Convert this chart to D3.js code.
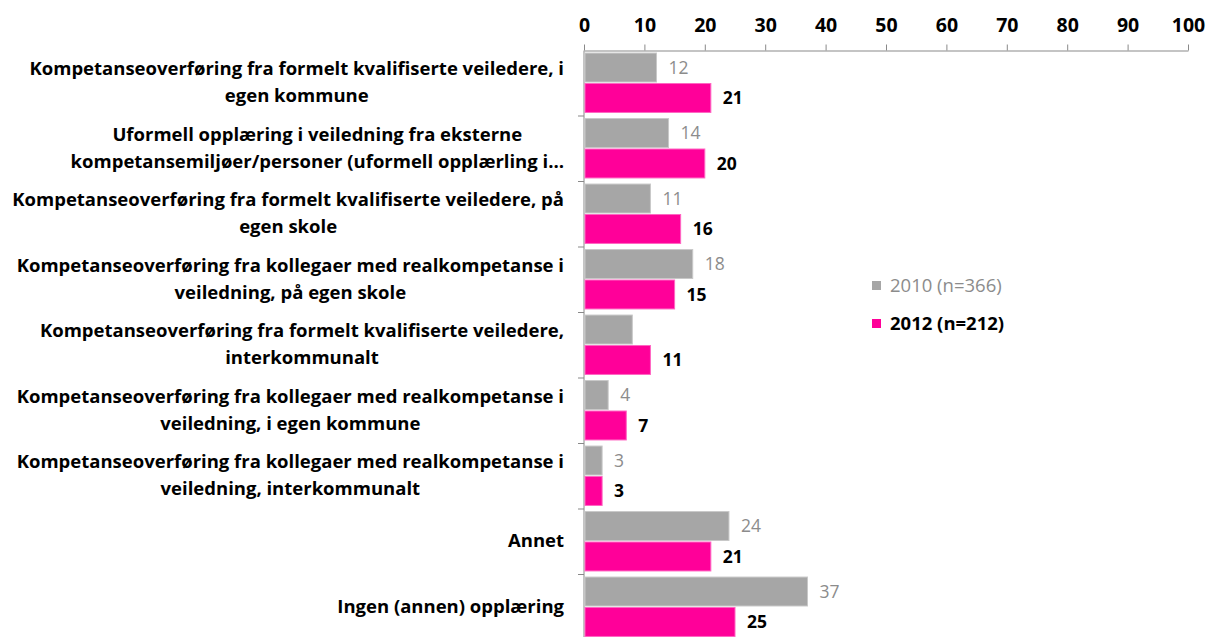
<!DOCTYPE html>
<html>
<head>
<meta charset="utf-8">
<script src="https://cdn.jsdelivr.net/npm/d3@7"></script>
<style>
  body { margin: 0; background: #fff; }
  text { font-family: "Open Sans", "Noto Sans", sans-serif; }
  .cat-label { font-weight: bold; fill: #000; }
  .tick-label { font-weight: bold; fill: #000; }
</style>
</head>
<body>
<div id="chart"></div>
<script>
const categories = [
    ["Kompetanseoverføring fra formelt kvalifiserte veiledere, i", "egen kommune"],
    ["Uformell opplæring i veiledning fra eksterne", "kompetansemiljøer/personer (uformell opplærling i…"],
    ["Kompetanseoverføring fra formelt kvalifiserte veiledere, på", "egen skole"],
    ["Kompetanseoverføring fra kollegaer med realkompetanse i", "veiledning, på egen skole"],
    ["Kompetanseoverføring fra formelt kvalifiserte veiledere,", "interkommunalt"],
    ["Kompetanseoverføring fra kollegaer med realkompetanse i", "veiledning, i egen kommune"],
    ["Kompetanseoverføring fra kollegaer med realkompetanse i", "veiledning, interkommunalt"],
    ["Annet"],
    ["Ingen (annen) opplæring"]
];
const values2010 = [12, 14, 11, 18, 8, 4, 3, 24, 37];
const values2012 = [21, 20, 16, 15, 11, 7, 3, 21, 25];
// the 2010 value for the fifth category has no label in the original
const labels2010 = ["12", "14", "11", "18", null, "4", "3", "24", "37"];
const labels2012 = ["21", "20", "16", "15", "11", "7", "3", "21", "25"];
const seriesNames = ["2010 (n=366)", "2012 (n=212)"];
const xTicks = [0, 10, 20, 30, 40, 50, 60, 70, 80, 90, 100];

const width = 1213, height = 637;
const axisLeft = 584, axisRight = 1188, axisTop = 50.5;
const bandTop = 50, bandStep = 65.5;
const labelRight = 564, lineGap = 27, fontSize = 18.5;
const grey = "#a6a6a6", pink = "#ff0099", axisColor = "#898989";

const svg = d3.select("#chart").append("svg")
    .attr("width", width)
    .attr("height", height);

const x = d3.scaleLinear().domain([0, 100]).range([axisLeft, axisRight]);
const y = d3.scaleBand()
    .domain(d3.range(categories.length))
    .range([bandTop, bandTop + bandStep * categories.length])
    .paddingInner(0).paddingOuter(0);
const ySeries = d3.scaleBand()
    .domain([0, 1])
    .range([0, y.bandwidth()])
    .paddingInner(0.05).paddingOuter(0.1);

// top axis
const xAxis = d3.axisTop(x).tickValues(xTicks).tickSize(6).tickSizeOuter(0).tickPadding(13);
const gx = svg.append("g")
    .attr("transform", `translate(0,${axisTop})`)
    .call(xAxis);
gx.select(".domain").attr("stroke", axisColor);
gx.selectAll(".tick line").attr("stroke", axisColor);
gx.selectAll(".tick text")
    .attr("class", "tick-label")
    .attr("font-size", 19.5)
    .attr("fill", "#000");

// left axis line with small ticks between categories
svg.append("line")
    .attr("x1", axisLeft).attr("x2", axisLeft)
    .attr("y1", axisTop).attr("y2", height)
    .attr("stroke", axisColor);
svg.selectAll(".cat-tick")
    .data(d3.range(1, categories.length))
    .enter()
    .append("line")
    .attr("class", "cat-tick")
    .attr("x1", axisLeft - 6).attr("x2", axisLeft)
    .attr("y1", d => y(d) + 0.5).attr("y2", d => y(d) + 0.5)
    .attr("stroke", axisColor);

// bars
const series = [
    {values: values2010, labels: labels2010, fill: grey, stroke: "#c8c8c8", textFill: "#8c8c8c", weight: "normal"},
    {values: values2012, labels: labels2012, fill: pink, stroke: "#ff66c2", textFill: "#000", weight: "bold"}
];

series.forEach((s, si) => {
    const g = svg.append("g").attr("class", `series-${si}`);
    g.selectAll("rect")
        .data(s.values)
        .enter()
        .append("rect")
        .attr("x", x(0) + 1)
        .attr("y", (d, i) => y(i) + ySeries(si))
        .attr("width", d => x(d) - x(0) - 1)
        .attr("height", ySeries.bandwidth())
        .attr("fill", s.fill)
        .attr("stroke", s.stroke)
        .attr("stroke-width", 1);

    g.selectAll("text")
        .data(s.values)
        .enter()
        .append("text")
        .attr("x", d => x(d) + 12)
        .attr("y", (d, i) => y(i) + ySeries(si) + ySeries.bandwidth() / 2)
        .attr("dy", "0.35em")
        .attr("font-size", 17.5)
        .attr("font-weight", s.weight)
        .attr("fill", s.textFill)
        .text((d, i) => s.labels[i] === null ? "" : s.labels[i]);
});

// category labels: lines centred on each other, block right aligned
categories.forEach((lines, i) => {
    const g = svg.append("g").attr("class", "cat-label");
    const cy = y(i) + y.bandwidth() / 2;
    const texts = lines.map((line, li) => g.append("text")
        .attr("font-size", fontSize)
        .attr("font-weight", "bold")
        .attr("y", cy + (li - (lines.length - 1) / 2) * lineGap + 6)
        .text(line));
    const maxW = d3.max(texts, t => t.node().getComputedTextLength());
    texts.forEach(t => t.attr("x", labelRight - maxW / 2).attr("text-anchor", "middle"));
});

// legend
const legend = svg.append("g").attr("transform", "translate(872,281)");
seriesNames.forEach((name, i) => {
    const row = legend.append("g").attr("transform", `translate(0,${i * 38})`);
    row.append("rect")
        .attr("width", 9).attr("height", 9)
        .attr("fill", i === 0 ? grey : pink);
    row.append("text")
        .attr("x", 18).attr("y", 4.5)
        .attr("dy", "0.35em")
        .attr("font-size", 18.5)
        .attr("font-weight", i === 0 ? "normal" : "bold")
        .attr("fill", i === 0 ? "#8c8c8c" : "#000")
        .text(name);
});
</script>
</body>
</html>
